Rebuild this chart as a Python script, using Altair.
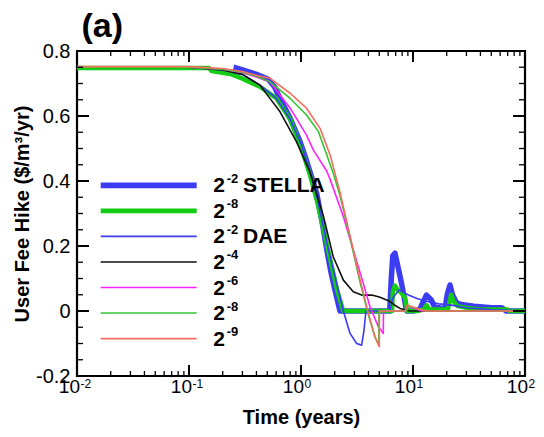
import altair as alt
import pandas as pd

W, H = 448, 325
FONT = "Liberation Sans"

# ---------------- data ----------------
stella_m2_x = [0.25, 0.3, 0.4, 0.51, 0.58, 0.65, 0.8, 0.98, 1.09, 1.2, 1.38, 1.55, 1.70, 1.85, 2.01, 2.23,
               3, 4, 5, 6.2, 6.4, 6.6, 6.9, 7.3, 7.9, 8.5, 8.8, 10, 11.5, 12.4, 13.2, 14.5, 15.7, 17, 19.3,
               20.2, 21.4, 22.5, 24.5, 27, 35, 50, 62, 68, 75, 100]
stella_m2_y = [0.750, 0.742, 0.728, 0.713, 0.690, 0.654, 0.593, 0.521, 0.475, 0.429, 0.362, 0.27, 0.188, 0.12,
               0.065, 0.0, 0, 0, 0, 0, 0.10, 0.17, 0.178, 0.14, 0.085, 0.025, 0.0, 0.0, 0.005, 0.03, 0.049,
               0.035, 0.01, 0.01, 0.005, 0.05, 0.08, 0.05, 0.025, 0.02, 0.015, 0.01, 0.01, 0.0, 0, 0]

stella_m8_x = [0.01, 0.15, 0.16, 0.24, 0.3, 0.43, 0.6, 0.8, 1.0, 1.2, 1.41, 1.6, 1.89, 2.1, 2.38, 4, 6.5, 6.6,
               6.9, 7.3, 7.9, 8.5, 8.9, 11, 12.5, 13.2, 14, 16, 20.5, 21.9, 23, 25, 30, 40, 70, 72, 100]
stella_m8_y = [0.748, 0.748, 0.738, 0.728, 0.715, 0.69, 0.655, 0.59, 0.505, 0.42, 0.33, 0.245, 0.135, 0.065,
               0.0, 0, 0, 0.06, 0.078, 0.065, 0.055, 0.04, 0.0, 0, 0.005, 0.018, 0.005, 0.005, 0.005, 0.05,
               0.03, 0.015, 0.01, 0.005, 0.005, 0, 0]

dae_m2_x = [0.01, 0.1, 0.2, 0.3, 0.43, 0.6, 0.8, 1.0, 1.2, 1.4, 1.7, 2.08, 2.39, 2.74, 3.14, 3.48, 3.65, 3.8,
            6.2, 6.6, 7.5, 9, 11, 13, 17, 22, 30, 50, 100]
dae_m2_y = [0.75, 0.75, 0.742, 0.728, 0.695, 0.655, 0.59, 0.515, 0.43, 0.345, 0.21, 0.085, 0.0, -0.069, -0.10,
            -0.105, -0.06, 0.0, 0.0, 0.04, 0.065, 0.05, 0.038, 0.03, 0.022, 0.018, 0.01, 0.004, 0]

dae_m4_x = [0.01, 0.1, 0.2, 0.3, 0.43, 0.65, 0.91, 1.2, 1.29, 1.59, 1.94, 2.39, 2.93, 3.48, 4.28, 5.0, 5.82,
            6.24, 7.0, 7.66, 9.4, 100]
dae_m4_y = [0.75, 0.75, 0.742, 0.728, 0.695, 0.613, 0.521, 0.429, 0.393, 0.29, 0.167, 0.095, 0.059, 0.049,
            0.049, 0.043, 0.034, 0.029, 0.016, 0.008, 0.0, 0]

dae_m6_x = [0.01, 0.1, 0.2, 0.3, 0.4, 0.53, 0.8, 1.12, 1.29, 1.70, 1.82, 2.39, 2.93, 3.6, 4.13, 4.9, 5.43,
            5.45, 8.6, 9.0, 10, 12, 100]
dae_m6_y = [0.75, 0.75, 0.744, 0.733, 0.72, 0.705, 0.624, 0.541, 0.495, 0.43, 0.405, 0.29, 0.188, 0.085,
            0.013, -0.048, -0.069, 0.0, 0.0, 0.015, 0.01, 0.0, 0]

dae_m8_x = [0.01, 0.1, 0.2, 0.3, 0.4, 0.53, 0.8, 1.12, 1.43, 1.70, 1.94, 2.23, 2.74, 3.36, 3.98, 4.57, 4.95,
            4.97, 8.7, 9.2, 11, 13, 100]
dae_m8_y = [0.75, 0.75, 0.744, 0.735, 0.722, 0.705, 0.654, 0.603, 0.552, 0.48, 0.424, 0.355, 0.225, 0.09,
            -0.01, -0.08, -0.105, 0.0, 0.0, 0.015, 0.008, 0.0, 0]

dae_m9_x = [0.01, 0.1, 0.2, 0.3, 0.4, 0.53, 0.8, 1.12, 1.48, 1.82, 2.01, 2.23, 2.74, 3.36, 3.98, 4.57, 5.0,
            5.02, 8.5, 8.9, 10, 13, 100]
dae_m9_y = [0.752, 0.752, 0.746, 0.737, 0.725, 0.716, 0.67, 0.624, 0.562, 0.48, 0.424, 0.365, 0.232, 0.098,
            -0.005, -0.078, -0.11, 0.0, 0.0, 0.018, 0.012, 0.0, 0]

series_x = [stella_m2_x, stella_m8_x, dae_m2_x, dae_m4_x, dae_m6_x, dae_m8_x, dae_m9_x]
series_y = [stella_m2_y, stella_m8_y, dae_m2_y, dae_m4_y, dae_m6_y, dae_m8_y, dae_m9_y]
series_colors = ["#3c3cf2", "#14cc14", "#3c3cf2", "#111111", "#ff22ff", "#33c633", "#f56e60"]
series_widths = [5.5, 4.5, 1.6, 1.6, 1.6, 1.6, 1.6]
legend_exps = ["-2", "-8", "-2", "-4", "-6", "-8", "-9"]
legend_names = ["STELLA", "", "DAE", "", "", "", ""]

x_major = [0.01, 0.1, 1, 10, 100]
x_exps = ["-2", "-1", "0", "1", "2"]
x_minor = [k * 10.0 ** e for e in range(-2, 2) for k in range(2, 10)]
y_major = [-0.2, 0, 0.2, 0.4, 0.6, 0.8]
y_minor = [-0.15, -0.1, -0.05, 0.05, 0.1, 0.15, 0.25, 0.3, 0.35, 0.45, 0.5, 0.55, 0.65, 0.7, 0.75]

# ---------------- scales / axes ----------------
xscale = alt.Scale(type="log", domain=[0.01, 100], nice=False)
yscale = alt.Scale(domain=[-0.2, 0.8], nice=False, zero=False)
xaxis = alt.Axis(labels=False, ticks=False, tickSize=0, domain=False, grid=False,
                 title="Time (years)", titleFont=FONT, titleFontSize=20, titleFontWeight="bold",
                 titleColor="black", titlePadding=31)
yaxis = alt.Axis(values=y_major, labelExpr="'' + datum.value", ticks=False, tickSize=0, domain=False,
                 grid=False, labelFont=FONT, labelFontSize=20, labelColor="black", labelPadding=7,
                 title="User Fee Hike ($/m³/yr)", titleFont=FONT, titleFontSize=20,
                 titleFontWeight="bold", titleColor="black", titlePadding=3)


def X(field):
    return alt.X(field, type="quantitative", scale=xscale, axis=xaxis)


def Y(field):
    return alt.Y(field, type="quantitative", scale=yscale, axis=yaxis)


layers = []

# data lines
for i in range(len(series_x)):
    df = pd.DataFrame({"t": series_x[i], "v": series_y[i], "o": list(range(len(series_x[i])))})
    layers.append(
        alt.Chart(df).mark_line(color=series_colors[i], strokeWidth=series_widths[i], clip=True,
                                strokeJoin="round", strokeCap="butt")
        .encode(x=X("t"), y=Y("v"), order=alt.Order("o:Q"))
    )

# inward ticks
def xticks(vals, length, width):
    d = pd.DataFrame({"t": vals})
    bot = alt.Chart(d).mark_rule(color="black", strokeWidth=width).encode(
        x=X("t"), y=alt.value(H), y2=alt.value(H - length))
    top = alt.Chart(d).mark_rule(color="black", strokeWidth=width).encode(
        x=X("t"), y=alt.value(0), y2=alt.value(length))
    return [bot, top]


def yticks(vals, length, width):
    d = pd.DataFrame({"v": vals})
    left = alt.Chart(d).mark_rule(color="black", strokeWidth=width).encode(
        y=Y("v"), x=alt.value(0), x2=alt.value(length))
    right = alt.Chart(d).mark_rule(color="black", strokeWidth=width).encode(
        y=Y("v"), x=alt.value(W), x2=alt.value(W - length))
    return [left, right]


layers += xticks(x_major, 11, 2)
layers += xticks(x_minor, 5, 1.3)
layers += yticks(y_major, 12, 2)
layers += yticks(y_minor, 6, 1.3)

# x tick labels 10^n
xl = pd.DataFrame({"t": x_major, "e": x_exps})
layers.append(alt.Chart(xl).mark_text(align="right", baseline="alphabetic", dx=3, font=FONT, fontSize=19,
                                      color="black").encode(x=X("t"), y=alt.value(H + 17), text=alt.value("10")))
layers.append(alt.Chart(xl).mark_text(align="left", baseline="alphabetic", dx=3.5, font=FONT, fontSize=12,
                                      color="black").encode(x=X("t"), y=alt.value(H + 12), text="e:N"))

# legend
one = pd.DataFrame({"a": [0]})
row0, step = 134.3, 25.55
for i in range(len(series_colors)):
    py = row0 + step * i
    layers.append(alt.Chart(one).mark_rule(color=series_colors[i], strokeWidth=series_widths[i] if i > 1 else series_widths[i] + 0.3)
                  .encode(x=alt.value(23.7), x2=alt.value(119.7), y=alt.value(py)))
    layers.append(alt.Chart(one).mark_text(text="2", align="left", baseline="alphabetic", font=FONT,
                                           fontSize=21, fontWeight="bold", color="black")
                  .encode(x=alt.value(136.3), y=alt.value(py + 7)))
    layers.append(alt.Chart(one).mark_text(text=legend_exps[i], align="left", baseline="alphabetic", font=FONT,
                                           fontSize=13, fontWeight="bold", color="black")
                  .encode(x=alt.value(149.7), y=alt.value(py - 2.5)))
    if legend_names[i]:
        layers.append(alt.Chart(one).mark_text(text=legend_names[i], align="left", baseline="alphabetic",
                                               font=FONT, fontSize=21, fontWeight="bold", color="black")
                      .encode(x=alt.value(166), y=alt.value(py + 7)))

# panel tag
layers.append(alt.Chart(one).mark_text(text="(a)", align="left", baseline="alphabetic", font=FONT,
                                       fontSize=34, fontWeight="bold", color="black")
              .encode(x=alt.value(4.5), y=alt.value(-14)))

chart = alt.layer(*layers).properties(
    width=W, height=H,
    autosize=alt.AutoSizeParams(type="none"),
    padding={"left": 77, "top": 51, "right": 19, "bottom": 61},
    background="white",
).configure_view(stroke="black", strokeWidth=2.2)

chart.save("out.html", embed_options={"renderer": "svg", "actions": False})
